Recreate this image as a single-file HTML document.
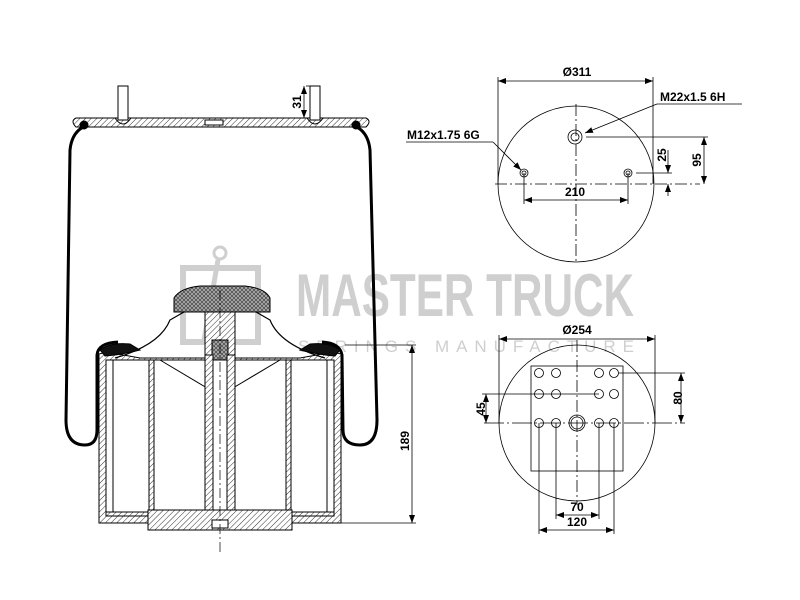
<!DOCTYPE html>
<html><head><style>html,body{margin:0;padding:0;background:#fff}svg{display:block}text{font-family:"Liberation Sans",Arial,sans-serif}</style></head>
<body>
<svg width="800" height="600" viewBox="0 0 800 600" xmlns="http://www.w3.org/2000/svg">
<defs>
<pattern id="h" width="4" height="4" patternUnits="userSpaceOnUse" patternTransform="rotate(45)"><rect width="4" height="4" fill="#fff"/><line x1="0" y1="0" x2="0" y2="4" stroke="#333" stroke-width="1"/></pattern>
<pattern id="x" width="4" height="4" patternUnits="userSpaceOnUse"><rect width="4" height="4" fill="#aaa"/><path d="M0 0L4 4M4 0L0 4" stroke="#333" stroke-width="0.6"/></pattern>
<marker id="a" markerWidth="8" markerHeight="6" refX="8" refY="3" orient="auto-start-reverse" markerUnits="userSpaceOnUse"><path d="M0 0L8 3L0 6z" fill="#000"/></marker>
</defs>

<!-- watermark -->
<g fill="none" stroke="#cfcfcf" stroke-width="6">
<rect x="183" y="268" width="75" height="74"/>
<circle cx="220" cy="253" r="6" stroke-width="3"/>
<line x1="218" y1="260" x2="204" y2="340" stroke-width="5"/>
</g>
<text x="296" y="316" font-size="60" fill="#cfcfcf" font-weight="bold" textLength="338" lengthAdjust="spacingAndGlyphs">MASTER TRUCK</text>
<text x="298" y="352" font-size="17" fill="#cfcfcf" textLength="336" lengthAdjust="spacing">SPRINGS MANUFACTURE</text>

<g stroke="#000" fill="none" stroke-width="1">
<!-- top plate -->
<path d="M76 118 L366 118 Q372 121 366 127 L76 127 Q70 121 76 118Z" fill="url(#h)"/>
<rect x="205" y="120" width="18" height="5" fill="#fff"/>
<!-- studs -->
<rect x="118" y="86" width="10" height="34" fill="#fff"/>
<rect x="310" y="86" width="10" height="34" fill="#fff"/>
<path d="M115 118 Q123 130 131 118 M307 118 Q315 130 323 118"/>
<!-- bellows -->
<path d="M88 125 Q72 130 70 150 L66 420 Q66 445 85 445 Q97 445 97 430 L97 355 Q98 343 118 342" stroke-width="3"/>
<path d="M352 125 Q368 130 370 150 L377 420 Q377 445 360 445 Q343 445 343 430 L342 355 Q340 343 322 342" stroke-width="3"/>
<circle cx="84" cy="125" r="4" fill="#000"/><circle cx="356" cy="125" r="4" fill="#000"/>
<!-- piston outer -->
<path d="M99 354 L107 352 L140 358 L300 358 L333 352 L341 354 L341 523 L99 523Z" fill="url(#h)"/>
<rect x="106" y="360" width="228" height="156" fill="#fff"/>
<path d="M106 512 L148 512 L148 516 L106 516Z M292 512 L334 512 L334 516 L292 516Z" fill="url(#h)"/>
<!-- inner walls -->
<rect x="149" y="360" width="5" height="152" fill="url(#h)"/>
<rect x="286" y="360" width="5" height="152" fill="url(#h)"/>
<line x1="113" y1="360" x2="113" y2="512"/><line x1="327" y1="360" x2="327" y2="512"/>
<!-- cone -->
<path d="M115 358 Q160 345 170 320 L205 300 L235 300 L270 320 Q280 345 325 358" stroke-width="1.2"/>
<path d="M160 360 L207 388 L207 512 M280 360 L233 388 L233 512"/>
<!-- stem -->
<rect x="205" y="310" width="30" height="45" fill="url(#h)"/>
<rect x="212" y="340" width="16" height="20" fill="url(#x)"/>
<rect x="205" y="355" width="8" height="160" fill="url(#h)"/>
<rect x="227" y="355" width="8" height="160" fill="url(#h)"/>
<rect x="213" y="360" width="14" height="155" fill="#fff"/>
<!-- cap -->
<path d="M174 312 L174 298 Q180 288 200 286 L245 286 Q265 288 270 298 L270 312Z" fill="url(#x)"/>
<!-- base plate -->
<rect x="148" y="510" width="144" height="20" fill="url(#h)"/>
<rect x="212" y="520" width="16" height="8" fill="#fff"/>
<!-- black rubber seats -->
<path d="M100 350 Q110 342 130 344 L140 350 Q120 355 105 356Z M340 350 Q330 342 310 344 L300 350 Q320 355 335 356Z" fill="#111"/>
</g>
<line x1="220" y1="290" x2="220" y2="552" stroke="#000" stroke-width="0.7" stroke-dasharray="10 3 2 3"/>
<g stroke="#000" stroke-width="0.8"><line x1="306" y1="86" x2="318" y2="86"/><line x1="304" y1="86" x2="304" y2="118" marker-start="url(#a)" marker-end="url(#a)"/></g>
<text transform="translate(301,102) rotate(-90)" font-size="12" font-weight="bold" text-anchor="middle">31</text>
<g stroke="#000" stroke-width="0.8"><line x1="345" y1="345" x2="416" y2="345"/><line x1="341" y1="523" x2="416" y2="523"/><line x1="412" y1="345" x2="412" y2="523" marker-start="url(#a)" marker-end="url(#a)"/></g>
<text transform="translate(409,441) rotate(-90)" font-size="12" font-weight="bold" text-anchor="middle">189</text>

<g stroke="#000" stroke-width="0.8" fill="none">
<circle cx="576" cy="184" r="78"/>
<line x1="495" y1="184" x2="700" y2="184" stroke-dasharray="12 3 2 3"/>
<line x1="576" y1="104" x2="576" y2="264" stroke-dasharray="12 3 2 3"/>
<circle cx="575" cy="137" r="7"/><circle cx="575" cy="137" r="4"/>
<circle cx="524" cy="173" r="4"/><circle cx="524" cy="173" r="2"/>
<circle cx="628" cy="173" r="4"/><circle cx="628" cy="173" r="2"/>
<line x1="498" y1="77" x2="498" y2="184"/><line x1="653" y1="77" x2="653" y2="184"/>
<line x1="498" y1="81" x2="653" y2="81" marker-start="url(#a)" marker-end="url(#a)"/>
<line x1="657" y1="104" x2="742" y2="104"/><line x1="657" y1="104" x2="585" y2="133" marker-end="url(#a)"/>
<line x1="406" y1="142" x2="493" y2="142"/><line x1="493" y1="142" x2="521" y2="170" marker-end="url(#a)"/>
<line x1="586" y1="137" x2="708" y2="137"/>
<line x1="636" y1="173" x2="672" y2="173"/>
<line x1="704" y1="137" x2="704" y2="184" marker-start="url(#a)" marker-end="url(#a)"/>
<line x1="668" y1="150" x2="668" y2="173" marker-end="url(#a)"/><line x1="668" y1="184" x2="668" y2="196" marker-start="url(#a)"/>
<line x1="524" y1="173" x2="524" y2="204"/><line x1="628" y1="173" x2="628" y2="204"/>
<line x1="524" y1="200" x2="628" y2="200" marker-start="url(#a)" marker-end="url(#a)"/>
</g>
<g font-size="12" font-weight="bold">
<text x="577" y="76" text-anchor="middle">Ø311</text>
<text x="660" y="101">M22x1.5 6H</text>
<text x="407" y="139">M12x1.75 6G</text>
<text x="575" y="196" text-anchor="middle">210</text>
<text transform="translate(666,155) rotate(-90)" text-anchor="middle">25</text>
<text transform="translate(701,160) rotate(-90)" text-anchor="middle">95</text>
</g>

<g stroke="#000" stroke-width="0.8" fill="none">
<circle cx="577" cy="423" r="78"/>
<rect x="531" y="366" width="92" height="105"/>
<line x1="577" y1="340" x2="577" y2="505" stroke-dasharray="12 3 2 3"/>
<line x1="484" y1="423" x2="685" y2="423" stroke-dasharray="20 3 2 3"/>
<circle cx="577" cy="423" r="8"/><circle cx="577" cy="423" r="6"/>
<g>
<circle cx="539" cy="373" r="4.5"/><circle cx="556" cy="373" r="4.5"/><circle cx="599" cy="373" r="4.5"/><circle cx="614" cy="373" r="4.5"/>
<circle cx="539" cy="394" r="4.5"/><circle cx="556" cy="394" r="4.5"/><circle cx="599" cy="394" r="4.5"/><circle cx="614" cy="394" r="4.5"/>
<circle cx="539" cy="423" r="4.5"/><circle cx="556" cy="423" r="4.5"/><circle cx="599" cy="423" r="4.5"/><circle cx="614" cy="423" r="4.5"/>
</g>
<line x1="499" y1="335" x2="499" y2="423"/><line x1="655" y1="335" x2="655" y2="423"/>
<line x1="499" y1="339" x2="655" y2="339" marker-start="url(#a)" marker-end="url(#a)"/>
<line x1="619" y1="373" x2="685" y2="373"/>
<line x1="681" y1="373" x2="681" y2="423" marker-start="url(#a)" marker-end="url(#a)"/>
<line x1="482" y1="394" x2="599" y2="394"/>
<line x1="486" y1="394" x2="486" y2="423" marker-start="url(#a)" marker-end="url(#a)"/>
<line x1="539" y1="423" x2="539" y2="534"/><line x1="614" y1="423" x2="614" y2="534"/>
<line x1="556" y1="423" x2="556" y2="519"/><line x1="599" y1="423" x2="599" y2="519"/>
<line x1="556" y1="515" x2="599" y2="515" marker-start="url(#a)" marker-end="url(#a)"/>
<line x1="539" y1="530" x2="614" y2="530" marker-start="url(#a)" marker-end="url(#a)"/>
</g>
<g font-size="12" font-weight="bold">
<text x="577" y="334" text-anchor="middle">Ø254</text>
<text x="577" y="511" text-anchor="middle">70</text>
<text x="577" y="526" text-anchor="middle">120</text>
<text transform="translate(682,398) rotate(-90)" text-anchor="middle">80</text>
<text transform="translate(485,409) rotate(-90)" text-anchor="middle">45</text>
</g>
</svg>
</body></html>
